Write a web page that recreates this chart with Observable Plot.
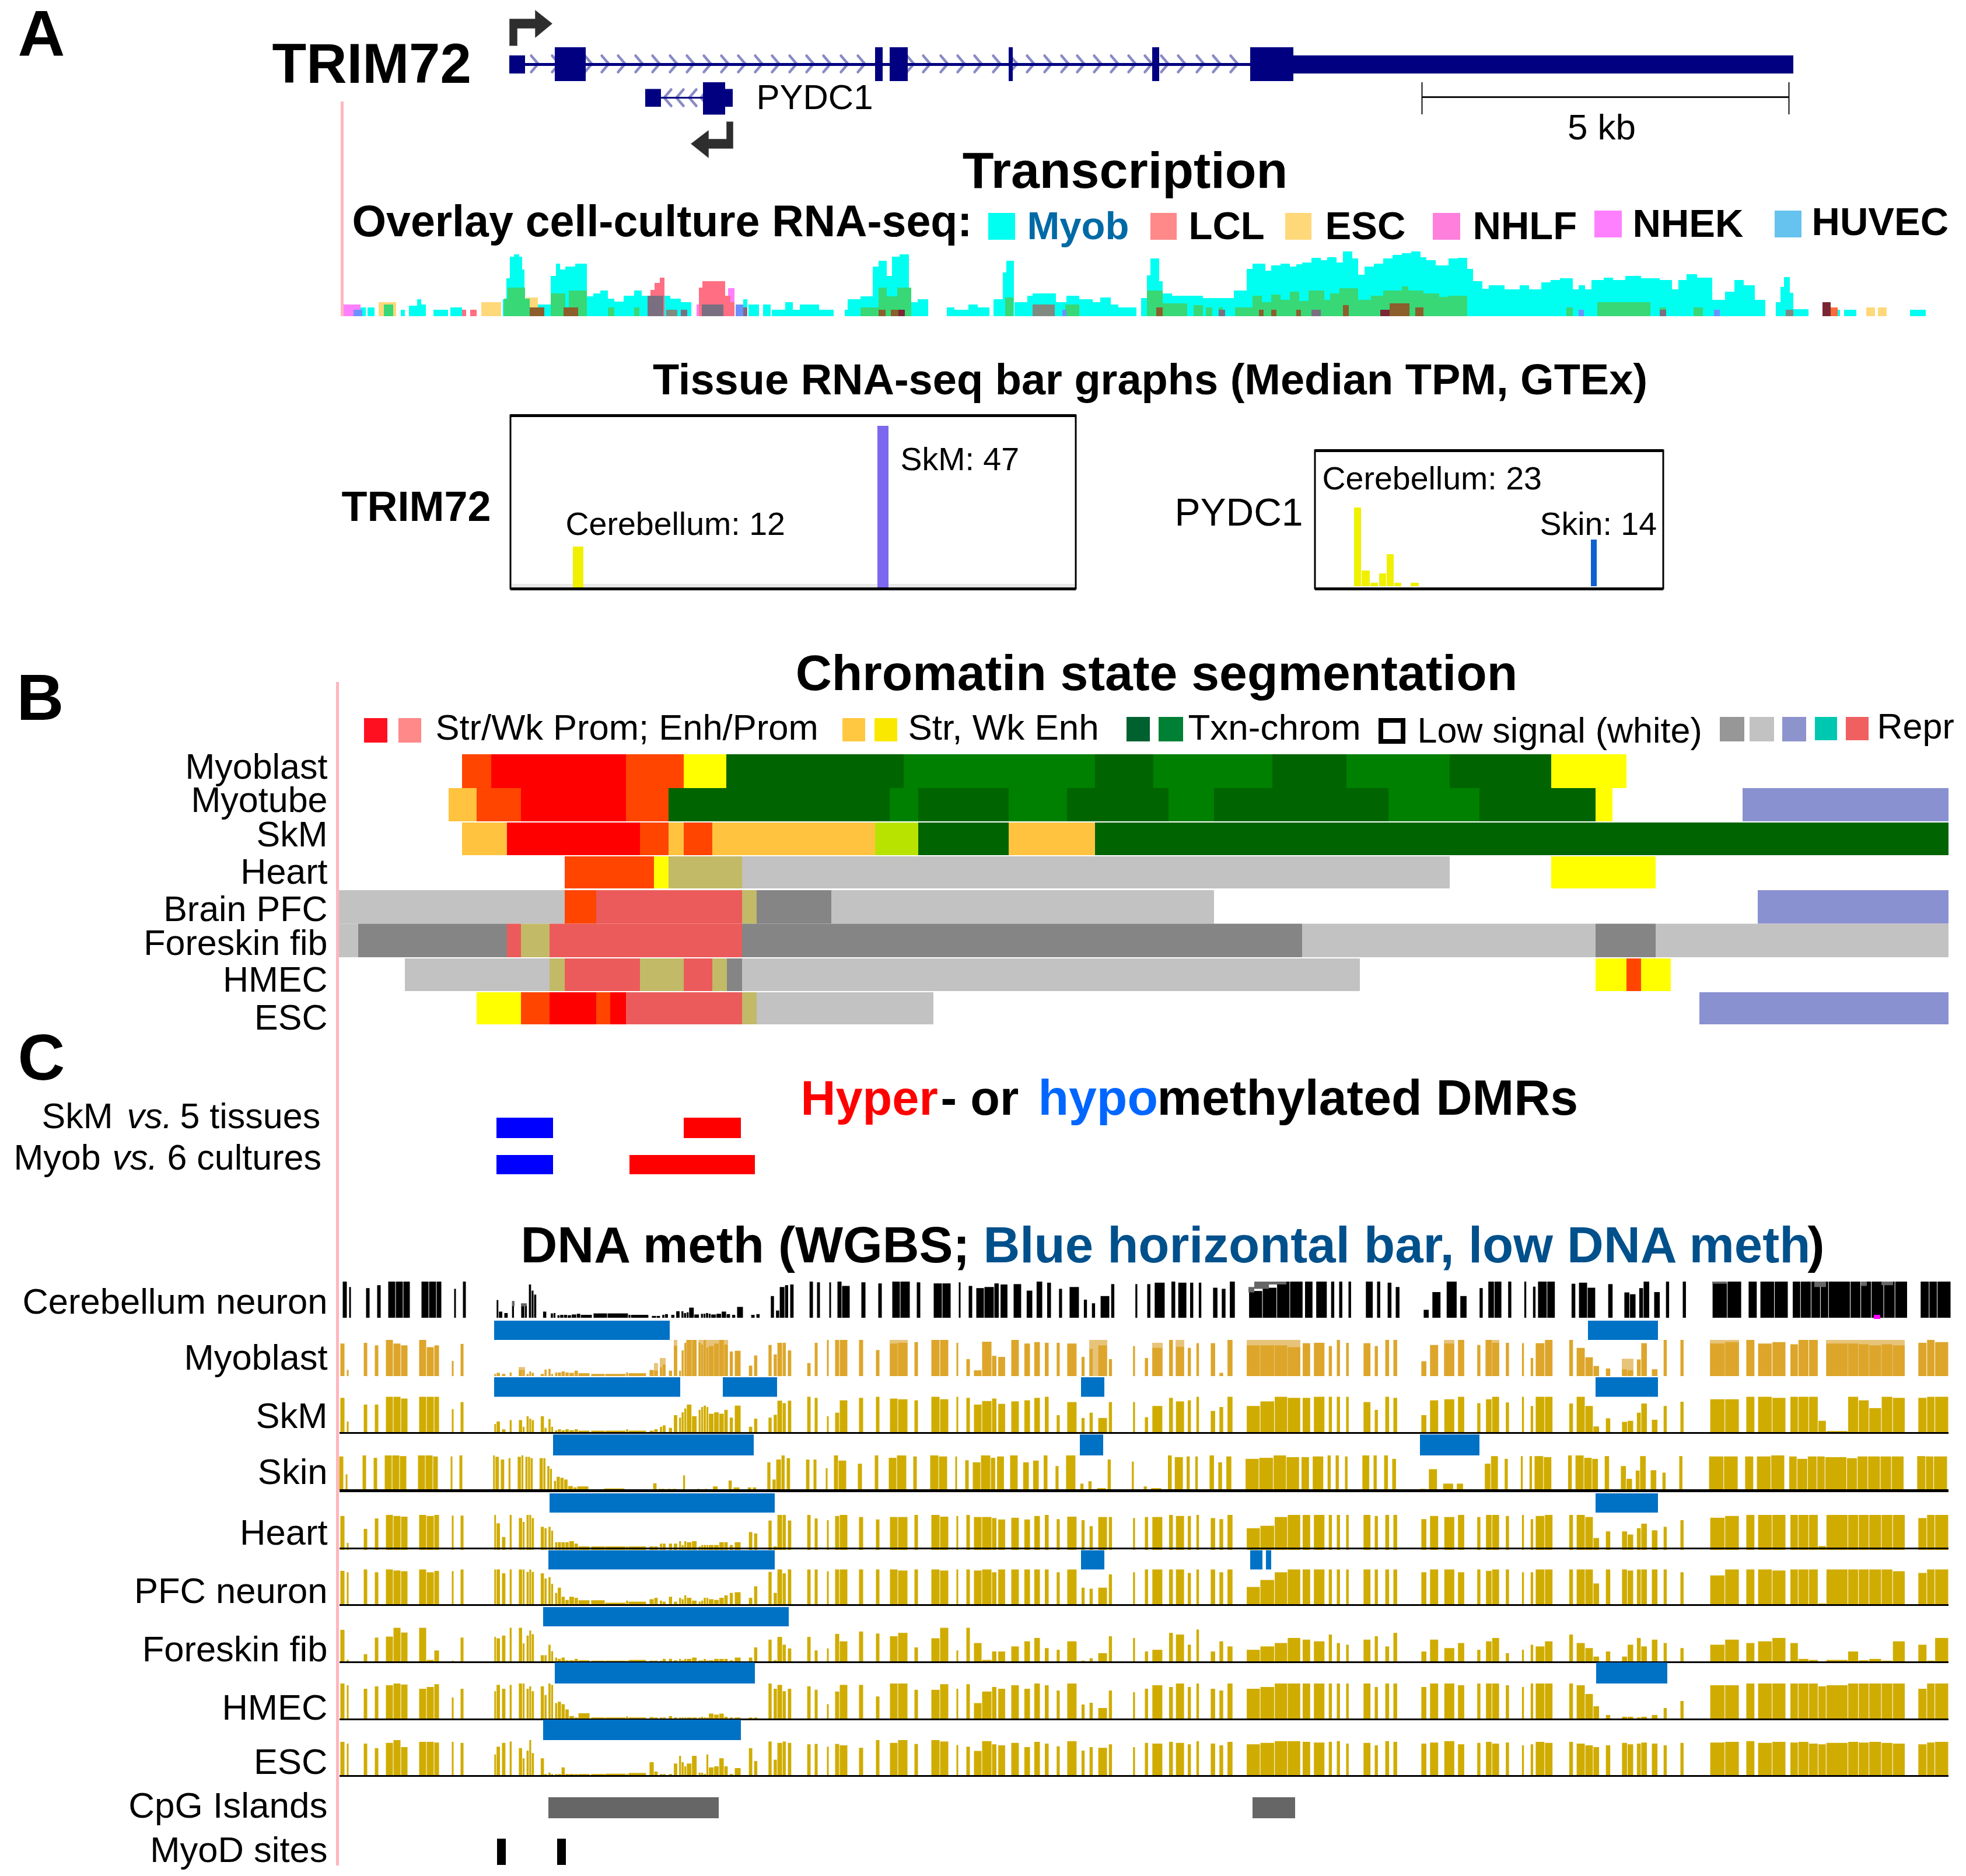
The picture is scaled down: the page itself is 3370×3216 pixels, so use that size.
<!DOCTYPE html>
<html><head><meta charset="utf-8">
<style>html,body{margin:0;padding:0;background:#fff}svg{display:block}</style>
<script src="https://cdn.jsdelivr.net/npm/d3@7"></script>
<script src="https://cdn.jsdelivr.net/npm/@observablehq/plot@0.6"></script>
</head><body><div id="chart"></div>
<script>
// ---------- gene model (x = position along the browser window) ----------
const trimExons = [[873,900,"utr"],[951,1004,"cds"],[1500,1513,"cds"],[1525,1556,"cds"],[1729,1736,"cds"],[1975,1987,"cds"],[2143,2217,"cds"],[2217,3074,"utr"]];
const trimIntron = [900,2143];
const trimChevrons = [916,952,1008,1037,1065,1095,1124,1154,1183,1212,1242,1271,1300,1329,1359,1388,1417,1447,1476,1560,1588,1618,1647,1676,1708,1737,1766,1796,1825,1852,1881,1910,1940,1968,1996,2025,2057,2085,2115];
const pydcExons = [[1106,1133,"utr"],[1205,1243,"cds"],[1243,1256,"utr"]];
const pydcIntron = [1133,1205];
const pydcChevrons = [1144,1165,1187,1207];
const tssArrowTop = [[873,78],[873,32],[917,32],[917,17],[946,40],[917,64],[917,48],[886,48],[886,78]];
const tssArrowBottom = [[1256,208],[1256,254],[1214,254],[1214,270],[1184,246],[1214,223],[1214,238],[1245,238],[1245,208]];
const scaleBar = [2437,3066];

// ---------- overlaid RNA-seq: [start, end, signal] ----------
const rnaMyob = [[618,627,15],[630,642,15],[687,694,11],[701,715,18],[715,722,29],[722,730,20],[743,768,11],[772,792,15],[862,868,29],[868,874,65],[874,881,102],[881,890,106],[890,895,102],[895,899,80],[899,908,15],[908,944,20],[944,953,69],[953,960,90],[960,969,80],[969,986,85],[986,1006,90],[1006,1017,34],[1017,1029,39],[1029,1042,44],[1042,1053,30],[1053,1069,25],[1069,1087,35],[1087,1100,44],[1100,1114,35],[1136,1149,35],[1149,1167,30],[1167,1185,24],[1274,1281,29],[1283,1301,20],[1308,1321,20],[1323,1346,11],[1346,1359,24],[1359,1371,11],[1371,1404,20],[1404,1429,11],[1448,1453,11],[1453,1475,29],[1475,1496,34],[1496,1506,85],[1506,1520,95],[1520,1529,69],[1529,1542,102],[1542,1558,106],[1558,1562,34],[1562,1573,24],[1573,1591,29],[1623,1636,15],[1636,1660,11],[1660,1676,20],[1676,1696,15],[1703,1719,29],[1719,1725,75],[1725,1738,95],[1739,1761,24],[1761,1770,35],[1770,1810,39],[1810,1828,24],[1828,1850,35],[1850,1873,29],[1873,1886,24],[1886,1904,32],[1904,1917,20],[1917,1948,15],[1956,1966,31],[1966,1972,70],[1972,1987,99],[1987,1993,60],[1993,2009,39],[2009,2062,35],[2062,2115,31],[2115,2137,44],
[2137,2147,81],[2147,2169,90],[2169,2179,78],[2179,2195,87],[2195,2211,90],[2211,2222,85],[2222,2232,89],[2232,2248,92],[2248,2264,100],[2264,2275,96],[2275,2291,101],[2291,2302,92],[2302,2318,111],[2318,2328,99],[2328,2339,71],[2339,2355,85],[2355,2371,90],[2371,2387,99],[2387,2403,105],[2403,2419,108],[2419,2435,111],[2435,2445,101],[2445,2461,96],[2461,2483,87],[2483,2499,99],[2499,2515,100],[2515,2525,81],[2525,2541,60],[2541,2552,47],[2552,2579,53],[2579,2605,46],[2605,2621,53],[2621,2642,46],[2642,2658,58],[2658,2674,62],[2674,2696,65],[2696,2706,46],[2706,2717,53],[2717,2728,46],[2728,2749,62],[2749,2765,66],[2765,2786,62],[2786,2813,69],[2813,2845,65],[2845,2866,62],[2866,2877,46],[2877,2891,62],[2891,2909,72],[2909,2935,66],[2935,2957,28],[2957,2973,42],[2973,2989,62],[2989,3008,53],[3008,3026,28],[3044,3052,24],[3052,3058,50],[3058,3068,67],[3068,3074,40],[3074,3100,12],[3132,3154,11],[3161,3182,11],[3274,3301,11]];
const rnaNhek = [[589,618,20],[1194,1203,20],[1248,1259,48]];
const rnaEsc = [[649,679,24],[825,859,24],[901,922,32],[3199,3214,15],[3219,3234,15]];
const rnaLcl = [[792,799,11],[806,817,11],[1115,1122,45],[1122,1131,57],[1131,1139,66],[1198,1204,49],[1204,1243,60],[1243,1252,35],[1252,1259,24]];
const rnaOverlapGreen = [[658,674,20],[864,870,30],[870,900,49],[900,908,30],[944,969,39],[975,1006,44],[1042,1053,15],[1087,1096,15],[1475,1506,15],[1506,1520,49],[1520,1538,34],[1538,1562,49],[1723,1737,32],[1826,1850,20],[1966,1993,44],[1993,2035,22],[2046,2062,19],[2067,2078,15],[2089,2096,15],[2117,2137,15],
[2137,2147,15],[2147,2163,35],[2163,2179,24],[2179,2195,37],[2195,2211,28],[2211,2227,42],[2227,2243,26],[2243,2270,44],[2270,2280,28],[2280,2296,39],[2296,2328,48],[2328,2350,28],[2350,2371,35],[2371,2403,44],[2403,2414,51],[2414,2440,44],[2440,2467,39],[2467,2483,33],[2483,2515,35],[2685,2696,15],[2738,2829,24],[2845,2856,15],[2903,2919,15]];
const rnaOverlapBrown = [[908,933,15],[966,991,15],[1506,1518,11],[1527,1540,11],[1982,1993,15],[2158,2166,11],[2179,2188,11],[2222,2230,11],[2302,2312,19],[2382,2416,22],[2426,2440,15]];
const rnaOverlapMaroon = [[1540,1551,11],[2366,2382,11],[3124,3138,24]];
const rnaOverlapRed = [[3138,3150,15]];
const rnaOverlapGray = [[1142,1161,11],[1770,1808,20],[3061,3074,11]];
const rnaOverlapMauve = [[1110,1137,35],[1167,1178,11],[1203,1240,20],[1270,1281,15],[2089,2100,11],[2248,2264,11],[2845,2856,11]];
const rnaOverlapBlue = [[606,621,11],[1261,1274,20],[1821,1828,11],[2706,2715,11],[2938,2948,11]];

const rnaLegendNames = ["Myob","LCL","ESC","NHLF","NHEK","HUVEC"];
const rnaLegendColors = ["#00FFF0","#FF8888","#FFD87A","#FF80DC","#FF80FF","#66C2EE"];

// ---------- tissue bar graphs: [start, end, TPM-scaled top] ----------
const trimBars = [[982,1000,937,"#F0F000"],[1504,1523,730,"#7B68EE"]];
const pydcBars = [[2321,2333,870,"#F0F000"],[2334,2348,978,"#F0F000"],[2349,2362,999,"#F0F000"],[2364,2376,983,"#F0F000"],[2377,2389,950,"#F0F000"],[2390,2402,999,"#F0F000"],[2418,2432,999,"#F0F000"],[2727,2737,925,"#1060D0"]];

// ---------- chromatin states ----------
const stateColors = {P:"#FF0000",O:"#FF4500",Y:"#FFFF00",D:"#006400",G:"#008000",E:"#FFC340",L:"#B8E300",K:"#C2BA67",S:"#C2C2C2",A:"#858585",R:"#EC5B5B",V:"#8A91D0"};
const chromatinRows = ["Myoblast","Myotube","SkM","Heart","Brain PFC","Foreskin fib","HMEC","ESC"];
const segMyoblast = [[792,842,"O"],[842,1073,"P"],[1073,1172,"O"],[1172,1245,"Y"],[1245,1549,"D"],[1549,1877,"G"],[1877,1977,"D"],[1977,2181,"G"],[2181,2308,"D"],[2308,2485,"G"],[2485,2659,"D"],[2659,2788,"Y"]];
const segMyotube = [[769,817,"E"],[817,893,"O"],[893,1073,"P"],[1073,1146,"O"],[1146,1525,"D"],[1525,1574,"G"],[1574,1729,"D"],[1729,1829,"G"],[1829,2003,"D"],[2003,2081,"G"],[2081,2380,"D"],[2380,2536,"G"],[2536,2735,"D"],[2735,2764,"Y"],[2987,3340,"V"]];
const segSkM = [[792,869,"E"],[869,1097,"P"],[1097,1146,"O"],[1146,1172,"E"],[1172,1221,"O"],[1221,1500,"E"],[1500,1574,"L"],[1574,1729,"D"],[1729,1877,"E"],[1877,3340,"D"]];
const segHeart = [[968,1121,"O"],[1121,1146,"Y"],[1146,1272,"K"],[1272,2485,"S"],[2659,2838,"Y"]];
const segBrain = [[581,968,"S"],[968,1022,"O"],[1022,1272,"R"],[1272,1297,"K"],[1297,1425,"A"],[1425,2081,"S"],[3013,3340,"V"]];
const segForeskin = [[581,614,"S"],[614,869,"A"],[869,893,"R"],[893,942,"K"],[942,1272,"R"],[1272,2232,"A"],[2232,2735,"S"],[2735,2838,"A"],[2838,3340,"S"]];
const segHmec = [[694,942,"S"],[942,968,"K"],[968,1097,"R"],[1097,1172,"K"],[1172,1221,"R"],[1221,1246,"K"],[1246,1272,"A"],[1272,2331,"S"],[2735,2788,"Y"],[2788,2813,"O"],[2813,2864,"Y"]];
const segEsc = [[817,893,"Y"],[893,942,"O"],[942,1022,"P"],[1022,1046,"O"],[1046,1073,"P"],[1073,1272,"R"],[1272,1297,"K"],[1297,1600,"S"],[2913,3340,"V"]];

// ---------- DMRs ----------
const dmrSkm = [[851,948,"hypo"],[1172,1270,"hyper"]];
const dmrMyob = [[851,948,"hypo"],[1079,1294,"hyper"]];

// ---------- CpG sites shared by all methylation tracks ----------
const sitesLeft = [[583,591],[594,598],[623,630],[642,649],[661,674],[674,687],[687,699],[718,731],[731,744],[744,753],[774,778],[789,795]];
const sitesDip = [[846.8,850.7],[850.7,857.5],[860,866.8],[873.2,877.5],[888.9,895.4],[895.4,899.6],[902.1,906.8],[906.8,911],[911,915.7],[926.4,932.9],[932.9,937.5],[939.6,944.3],[944.3,948.6],[951,955.7],[955.7,962.1],[962.1,968.6],[968.6,975.4],[975.4,984.3],[984.3,991.1],[991.1,1011],[1012.9,1037.1],[1037.1,1072.9],[1072.9,1077.1],[1077.1,1107.9],[1112.9,1121.1],[1121.1,1127.9],[1130.7,1135.4],[1135.4,1141.4],[1146.1,1152.5],[1154.6,1161.4],[1163.6,1167.9],[1167.9,1172.5],[1172.5,1176.8],[1176.8,1185.7],[1185.7,1194.6],[1197.1,1201.4],[1201.4,1205.7],[1205.7,1210.4],[1210.4,1214.6],[1214.6,1223.6],[1223.6,1232.5],[1232.5,1241.1],[1241.1,1247.9],[1250.4,1256.8],[1259,1270],[1283.2,1290],[1292.1,1298.6],[1316.8,1323.2],[1325.7,1332.1],[1332.1,1341.1],[1341.1,1347.5],[1350,1356.8],[1383.2,1390]];
const sitesRight = [[1396,1402],[1417,1421],[1431,1439],[1439,1453],[1472,1480],[1501,1508],[1525,1539],[1539,1556],[1567,1574],[1596,1611],[1611,1626],[1639,1643],[1656,1663],[1669,1683],[1683,1700],
[1700,1708.5],[1710.6,1723.4],[1733,1746.9],[1755.4,1766],[1772.4,1783],[1790.5,1798],[1810.8,1817],[1828.9,1845.9],[1853.4,1859.7],[1867.2,1873.6],[1882.1,1898],[1900.2,1906.6],
[1941.7,1946],[1962,1968.4],[1974.8,1992.9],[2003.5,2011],[2015.2,2030.1],[2035.5,2041.9],[2050.4,2055.7],[2074.9,2083.4],[2089.8,2097.2],[2103.6,2113.2],
[2136.6,2160],[2160,2184.6],[2184.6,2206.9],[2206.9,2229.3],[2232.5,2246.3],[2251.7,2270.8],[2277.2,2283.6],[2291,2297.4],[2307,2312.4],
[2336.8,2349.6],[2356,2362.4],[2374.1,2381.6],[2388,2395.4],
[2435.9,2445.5],[2450.8,2465.7],[2475.3,2493.4],[2498.7,2510.4],[2531.7,2538.1],[2546.7,2557.3],[2557.3,2570.1],[2580.7,2587.1],[2608.4,2612.7],[2623.3,2628.6],[2631.9,2647.8],[2647.8,2661.7],
[2689.4,2696.8],[2702.1,2717],[2717,2730.9],[2730.9,2741.5],[2752.2,2760.7],[2779.9,2789.5],[2789.5,2800],[2805.4,2812.9],[2812.9,2823.5],[2831,2841.6],[2851.2,2857.6],[2880,2886.4],
[2931.1,2956.7],[2956.7,2981.1],[2992.9,3007.8],[3013.1,3037.6],[3037.6,3061],[3068.5,3082.3],[3082.3,3100.4],[3100.4,3116.4],[3116.4,3130.3],[3130.3,3167.5],[3167.5,3185.6],[3185.6,3203.7],[3203.7,3225],[3225,3244.2],[3244.2,3265.5],
[3287.8,3302.8],[3302.8,3316.6],[3316.6,3340]];

// ---------- methylation level at each site (percent of track height) ----------
const methCerebellum = [100,85,82,90,100,100,100,100,100,100,80,100,
49,17,13,46,32,36,92,75,64,17,0,12,13,7,8,8,7,9,11,8,12,12,8,8,5,5,8,10,8,18,18,13,15,28,9,11,11,13,11,9,11,17,10,8,30,8,10,60,20,85,90,92,100,
98,98,100,88,98,95,100,100,98,95,95,98,88,82,85,
95,92,93,75,100,97,80,85,50,40,60,93,
93,93,97,100,97,97,97,83,80,100,
74,83,100,100,100,100,100,100,100,
100,100,97,85,
22,71,100,60,82,100,100,100,100,86,100,100,
94,97,83,0,93,70,65,82,100,71,100,100,
97,100,100,100,100,100,100,100,100,100,100,100,100,100,100,
100,100,100];
const methMyoblast = [90,17,92,85,100,90,85,100,80,85,42,89,
6,9,6,10,17,17,6,13,9,6,18,20,6,10,10,13,10,9,15,8,6,6,10,8,17,15,24,32,15,84,15,71,92,100,100,92,87,100,79,83,90,100,87,68,70,29,57,86,60,92,92,71,36,
92,100,100,100,100,72,90,92,94,100,100,92,47,16,95,
56,53,100,90,94,92,92,90,53,75,85,47,
83,50,78,100,81,78,91,91,9,100,
85,85,85,80,91,92,83,100,92,
91,83,100,100,
41,86,90,100,86,100,92,92,91,50,91,100,
100,78,52,28,21,19,16,46,91,19,100,100,
90,94,100,90,94,88,100,100,0,90,90,88,85,88,85,
92,100,94];
const methSkM = [97,30,78,78,100,100,95,100,100,100,65,85,
23,30,8,34,34,15,45,38,34,45,12,37,15,5,8,5,8,5,8,4,4,4,8,4,4,8,15,19,12,48,41,56,67,78,45,63,71,75,71,52,56,52,63,41,75,15,38,41,49,89,82,89,100,
97,45,55,90,97,100,95,93,90,100,93,100,97,78,88,
95,80,87,90,97,100,48,85,40,55,40,85,
85,42,74,97,87,90,100,60,71,100,
74,87,100,97,97,100,100,100,100,
85,63,100,97,
48,90,93,100,82,93,100,84,100,74,100,100,
81,100,74,16,39,29,32,55,81,35,74,86,
93,93,100,100,97,100,100,100,32,3,100,90,68,100,97,
97,100,100];
const methSkin = [97,45,100,93,100,100,98,100,100,97,97,100,
100,96,88,92,96,100,96,96,92,92,92,69,61,26,38,35,30,11,7,10,0,4,0,0,0,19,3,3,3,3,0,0,42,0,0,3,0,0,3,0,10,0,0,27,7,7,7,80,30,88,100,92,88,
88,63,100,85,76,100,93,100,97,100,97,97,86,80,100,
93,97,100,80,85,100,69,100,18,25,5,88,
82,10,5,100,95,97,97,100,80,97,
90,93,100,95,95,97,100,100,97,
100,100,100,90,
3,60,18,18,0,76,98,90,98,98,98,95,
100,100,93,90,98,69,32,56,98,57,50,98,
97,97,97,97,100,97,90,97,97,95,92,97,97,97,97,
98,97,97];
const methHeart = [97,20,60,90,100,97,95,100,97,100,98,98,
100,76,37,100,91,80,100,100,91,66,62,66,55,22,22,22,22,25,18,10,10,10,10,10,10,10,18,18,18,18,25,14,25,22,25,10,14,14,14,14,14,22,22,14,22,51,47,84,10,100,100,84,100,
90,85,97,100,94,87,94,94,100,100,95,97,100,94,94,
91,87,92,87,97,100,88,95,85,68,94,94,
91,94,94,100,97,97,100,91,88,100,
62,69,94,100,100,100,100,100,100,
100,97,100,100,
88,97,94,100,94,100,100,97,100,88,97,100,
100,100,94,34,53,53,44,62,75,56,66,85,
92,97,100,100,100,100,100,100,11,100,100,100,100,100,100,
91,100,100];
const methPFC = [96,92,100,92,100,97,95,100,92,96,95,100,
100,100,89,100,100,100,93,100,93,89,74,78,59,33,48,22,13,22,19,12,12,5,11,8,15,19,11,8,22,8,19,15,26,19,11,8,11,19,19,15,13,19,26,33,35,19,52,93,33,100,89,100,100,
100,95,100,100,100,100,100,97,100,100,97,100,100,97,100,
92,100,100,100,100,100,92,100,48,45,48,86,
92,100,100,100,100,90,100,100,92,100,
50,70,92,100,100,100,100,100,100,
100,100,100,100,
92,100,100,92,100,96,100,100,92,92,100,100,
100,100,100,60,100,100,97,100,100,100,100,92,
83,100,100,100,97,100,100,100,3,100,100,100,100,100,95,
90,100,100];
const methForeskin = [94,6,22,71,74,100,86,100,5,33,3,71,
73,69,77,100,100,54,77,92,81,19,19,50,31,12,8,12,4,4,8,4,3,3,3,5,3,3,3,8,8,4,8,4,8,8,12,4,4,8,4,4,8,8,8,4,12,12,42,65,4,73,50,39,73,
33,39,82,60,89,83,75,85,42,69,100,33,100,55,5,
30,30,45,60,70,40,35,60,3,10,25,75,
70,30,35,85,80,50,95,30,60,45,
35,45,55,70,65,60,80,55,50,
65,75,45,85,
30,65,40,55,35,60,70,25,35,50,45,60,
80,55,40,15,30,15,50,70,45,65,55,40,
50,65,55,60,70,55,8,5,0,5,30,4,8,3,60,
50,3,70];
const methHMEC = [100,95,85,92,95,100,97,85,90,98,60,85,
78,96,85,96,100,100,85,92,78,92,67,100,96,44,48,41,26,7,3,15,3,3,6,3,4,3,3,3,7,3,3,3,3,3,3,3,5,3,3,14,11,14,5,3,3,3,3,100,85,96,78,85,92,
82,41,77,96,96,63,100,100,82,82,98,85,98,44,77,
90,85,95,85,100,95,80,100,40,45,30,80,
75,85,95,90,100,90,100,85,80,100,
85,90,100,100,100,100,100,100,100,
100,90,100,100,
90,100,100,95,100,100,100,95,90,100,100,100,
100,95,70,35,10,5,5,3,5,10,30,50,
95,95,100,100,100,100,100,100,92,95,100,100,100,100,100,
85,100,100];
const methESC = [95,90,90,77,92,100,80,95,95,93,95,92,
59,81,92,96,77,48,70,100,63,48,3,7,3,3,3,22,3,3,3,3,3,4,3,6,37,10,3,3,3,33,55,37,25,33,55,7,7,3,59,22,25,48,25,3,20,77,40,96,44,92,96,92,88,
89,81,89,85,78,100,92,100,89,100,96,86,81,69,97,
88,85,92,80,95,90,82,97,70,80,78,88,
80,92,90,95,92,88,97,90,85,95,
88,92,97,97,95,93,95,97,90,
92,85,97,95,
90,93,97,88,92,95,90,93,85,88,95,92,
95,90,85,80,85,92,88,90,93,90,85,92,
93,95,97,92,95,93,95,90,88,92,95,93,95,92,90,
88,93,95];
// pale upper layer on the Myoblast track and grey upper layer on the Cerebellum track
const myoblastPale = [[889,900,25],[1121,1128,36],[1131,1141,50],[1155,1161,100],[1176,1186,100],[1197,1248,100],[1525,1556,100],[1867,1898,100],[1975,1993,92],[2015,2030,100],[2137,2229,100],[2475,2493,100],[2546,2570,100],[2780,2800,48],[2931,2981,100],[3130,3265,100]];
const cerebellumGrey = [[893,903,32,40],[878,882,32,46],[2140,2150,70,85],[2150,2175,80,100],[2175,2205,92,100],[2935,2960,94,100],[3110,3130,85,100],[3190,3200,88,100],[3225,3245,90,100]];
// low-methylation regions above each track
const lmrMyoblast = [[847,1148],[2722,2842]];
const lmrSkM = [[847,1166],[1239,1332],[1853,1893],[2735,2842]];
const lmrSkin = [[948,1292],[1851,1891],[2434,2536]];
const lmrHeart = [[942,1328],[2735,2842]];
const lmrPFC = [[940,1328],[1853,1893],[2143,2164],[2170,2179]];
const lmrForeskin = [[931,1352]];
const lmrHMEC = [[951,1294],[2736,2858]];
const lmrESC = [[931,1270]];
const cpgIslands = [[940,1232],[2147,2220]];
const myodSites = [[852,867],[955,970]];
const methLabels = ["Cerebellum neuron","Myoblast","SkM","Skin","Heart","PFC neuron","Foreskin fib","HMEC","ESC"];
const methSeries = [methCerebellum,methMyoblast,methSkM,methSkin,methHeart,methPFC,methForeskin,methHMEC,methESC];
const lmrSeries = [null,lmrMyoblast,lmrSkM,lmrSkin,lmrHeart,lmrPFC,lmrForeskin,lmrHMEC,lmrESC];

// ---------- layout (not data) ----------
const W = 3370, H = 3216;
const chromY = [[1293,1351],[1351,1408],[1410,1466],[1468,1523],[1526,1583.5],[1583.5,1641],[1643,1699],[1701,1756]];
const trackY = [[2197,2259],[2297,2359],[2394.5,2455],[2495,2554],[2597,2657],[2690.5,2750.5],[2790.5,2848.5],[2886,2946],[2983,3043]];
const lmrY = [null,[2264,2297],[2361,2394.5],[2459,2495],[2560,2593],[2657.5,2690.5],[2755,2788],[2850,2886],[2948,2983]];
const trackColor = ["#000000","#DDA62B","#D0AC00","#D0AC00","#D0AC00","#D0AC00","#D0AC00","#D0AC00","#D0AC00"];
const trackShift = [4,0,0,-2,0,0,0,0,0];
const ruleRows = [[2456,3],[2555,5],[2654,3],[2751,3],[2849,3],[2947,3],[3044,3]];
const rnaBase = 542;

const allSites = [...sitesLeft,...sitesDip,...sitesRight];
methSeries.forEach((s,i)=>{ if(s.length!==allSites.length) throw new Error("length "+methLabels[i]+" "+s.length+" vs "+allSites.length); });

const methBars = methSeries.flatMap((vals,i)=>vals.map((v,k)=>({x1:allSites[k][0]+trackShift[i]+0.5,x2:allSites[k][1]+trackShift[i]-0.5,y2:trackY[i][1],y1:trackY[i][1]-(trackY[i][1]-trackY[i][0])*v/100,fill:trackColor[i]})).filter(d=>d.y1<d.y2));
const paleBars = myoblastPale.map(([a,b,v])=>({x1:a,x2:b,y1:trackY[1][1]-(trackY[1][1]-trackY[1][0])*v/100,y2:trackY[1][1]}));
const greyBars = cerebellumGrey.map(([a,b,lo,hi])=>({x1:a,x2:b,y1:trackY[0][1]-62*hi/100,y2:trackY[0][1]-62*lo/100}));
const lmrBars = lmrSeries.flatMap((s,i)=>s?s.map(([a,b])=>({x1:a,x2:b,y1:lmrY[i][0],y2:lmrY[i][1]})):[]);
const chromSegs = [segMyoblast,segMyotube,segSkM,segHeart,segBrain,segForeskin,segHmec,segEsc].flatMap((r,i)=>r.map(([a,b,s])=>({x1:a,x2:b,y1:chromY[i][0],y2:chromY[i][1],fill:stateColors[s]})));

const rnaRect = (arr,fill,opts={})=>Plot.rect(arr,{x1:d=>d[0],x2:d=>d[1],y1:d=>rnaBase-d[2],y2:rnaBase,fill,...opts});
const spanRect = (arr,y1,y2,fill)=>Plot.rect(arr,{x1:d=>d[0],x2:d=>d[1],y1,y2,fill});
const chevrons = (xs,y,h,dir)=>xs.flatMap((x,i)=>[{x:x-6*dir,y:y-h,z:i},{x:x+6*dir,y,z:i},{x:x-6*dir,y:y+h,z:i}]);
const poly = (pts,fill)=>Plot.line(pts,{x:d=>d[0],y:d=>d[1],fill,stroke:fill,strokeWidth:0.5});

const FONT = "Liberation Sans, Arial, sans-serif";
const txt = (items,{weight="normal",anchor="start",style="normal"}={})=>Plot.text(items,{
  x:d=>d[1],y:d=>d[2],text:d=>d[0],fontSize:d=>d[3],fill:d=>d[4]||"#000",
  textAnchor:anchor,lineAnchor:"bottom",fontWeight:weight,fontStyle:style,fontFamily:FONT});

const boldStart = [
 ["A",30,95,112],["B",28,1233,112],["C",30,1850,112],["TRIM72",466,141,96],
 ["Overlay cell-culture RNA-seq:",603,404,75.3],
 ["Myob",1760,409,67,"#006AA6"],["LCL",2037,409,67],["ESC",2271,409,67],["NHLF",2524,409,67],["NHEK",2798,405,67],["HUVEC",3105,402,67],
 ["TRIM72",585,892,72],
 ["Hyper",1372,1910,83,"#FF0000"],["- or",1612,1910,83],["hypo",1779,1910,86,"#0066FF"],["methylated DMRs",1983,1910,86],
 ["DNA meth (WGBS;",892,2163,87],["Blue horizontal bar, low DNA meth",1685,2163,87,"#00508C"],[")",3098,2163,87]
];
const boldMiddle = [["Transcription",1928,321,88],["Tissue RNA-seq bar graphs (Median TPM, GTEx)",1971,675,74],["Chromatin state segmentation",1982,1182,86]];
const plainStart = [
 ["PYDC1",1296,186,60],["Cerebellum: 12",969,916,55.5],["SkM: 47",1543,805,55.5],["Cerebellum: 23",2266,838,55.5],["Skin: 14",2639,916,55.5],["PYDC1",2013,900,66],
 ["Str/Wk Prom; Enh/Prom",746,1267,61.5],["Str, Wk Enh",1556,1267,62],["Txn-chrom",2036,1267,62],["Low signal (white)",2429,1272,61],["Repr",3217,1265,61],
 ["SkM",71,1933,61],["5 tissues",308,1933,61],["Myob",23,2004,61],["6 cultures",286,2004,61]
];
const italicStart = [["vs.",217,1933,61],["vs.",192,2004,61]];
const plainMiddle = [["5 kb",2745,238,62]];
const chromLabelBase = [1334,1391,1450,1514,1578,1636,1699,1764];
const methLabelBase = [2251,2347,2447,2543,2647,2747,2847,2947,3040];
const plainEnd = [
 ...chromatinRows.map((t,i)=>[t,561,chromLabelBase[i],61]),
 ...methLabels.map((t,i)=>[t,561,methLabelBase[i],61.5]),
 ["CpG Islands",561,3115,62],["MyoD sites",561,3191,61.5]
];

// legend swatches
const rnaSwatchX = [[1694,1740],[1972,2017],[2203,2248],[2456,2503],[2733,2780],[3042,3088]];
const rnaSwatchY = [[365,411],[365,411],[365,411],[365,411],[361,407],[361,407]];
const chromSwatch = [[624,664,"#FF1020",1231,1273],[683,722,"#FF8888",1231,1273],[1444,1483,"#FFC840",1231,1271],[1499,1538,"#FAE800",1231,1271],[1931,1971,"#006130",1229,1271],[1986,2028,"#008035",1229,1271],[2948,2990,"#979797",1229,1271],[2999,3041,"#C2C2C2",1229,1271],[3055,3096,"#8D93CC",1229,1271],[3111,3149,"#00C8B0",1229,1269],[3164,3203,"#F06060",1229,1269]];

const chart = Plot.plot({
  width:W,height:H,margin:0,
  x:{domain:[0,W],range:[0,W],axis:null},
  y:{domain:[0,H],range:[0,H],axis:null},
  color:{type:"identity"},
  style:{background:"#fff",fontFamily:FONT},
  marks:[
    // pink guides
    Plot.ruleX([586],{y1:174,y2:542,stroke:"#FFB6BE",strokeWidth:5}),
    Plot.ruleX([578],{y1:1169,y2:3198,stroke:"#FFB6BE",strokeWidth:5}),
    // genes
    Plot.line(chevrons(trimChevrons,109,14,1),{x:"x",y:"y",z:"z",stroke:"#8A8AC8",strokeWidth:4.5}),
    Plot.line(chevrons(pydcChevrons,167,14,-1),{x:"x",y:"y",z:"z",stroke:"#8A8AC8",strokeWidth:4.5}),
    Plot.ruleY([110],{x1:trimIntron[0],x2:trimIntron[1],stroke:"#000080",strokeWidth:5}),
    Plot.ruleY([167],{x1:pydcIntron[0],x2:pydcIntron[1],stroke:"#000080",strokeWidth:3}),
    Plot.rect(trimExons,{x1:d=>d[0],x2:d=>d[1],y1:d=>d[2]==="cds"?81:95,y2:d=>d[2]==="cds"?139:126,fill:"#000080"}),
    Plot.rect(pydcExons,{x1:d=>d[0],x2:d=>d[1],y1:d=>d[2]==="cds"?141:152.5,y2:d=>d[2]==="cds"?196.5:183,fill:"#000080"}),
    poly(tssArrowTop,"#2E2E2E"),poly(tssArrowBottom,"#2E2E2E"),
    Plot.ruleY([166],{x1:scaleBar[0],x2:scaleBar[1],stroke:"#111",strokeWidth:3}),
    Plot.ruleX(scaleBar,{y1:141,y2:196,stroke:"#111",strokeWidth:2}),
    // RNA-seq overlay
    rnaRect(rnaMyob,"#00FFF0"),
    rnaRect(rnaNhek,"#FF80FF"),
    rnaRect(rnaEsc,"#FFD87A"),
    rnaRect(rnaLcl,"#FF6E82"),
    rnaRect(rnaOverlapGreen,"#38D876"),
    rnaRect(rnaOverlapBrown,"#8B5E2B"),
    rnaRect(rnaOverlapMaroon,"#7A2634"),
    rnaRect(rnaOverlapRed,"#FF6A3C"),
    rnaRect(rnaOverlapGray,"#7F8A80"),
    rnaRect(rnaOverlapMauve,"#7A6F80"),
    rnaRect(rnaOverlapBlue,"#6E90FF"),
    Plot.rect(rnaLegendNames,{x1:(d,i)=>rnaSwatchX[i][0],x2:(d,i)=>rnaSwatchX[i][1],y1:(d,i)=>rnaSwatchY[i][0],y2:(d,i)=>rnaSwatchY[i][1],fill:(d,i)=>rnaLegendColors[i]}),
    // tissue bar graphs
    Plot.rect([[877,1842]],{x1:d=>d[0],x2:d=>d[1],y1:1001,y2:1007,fill:"#E8E8E8"}),
    Plot.rect(trimBars,{x1:d=>d[0],x2:d=>d[1],y1:d=>d[2],y2:1007,fill:d=>d[3]}),
    Plot.rect(pydcBars,{x1:d=>d[0],x2:d=>d[1],y1:d=>d[2],y2:1005,fill:d=>d[3]}),
    Plot.rect([[875,1844,712],[2254,2851,772]],{x1:d=>d[0],x2:d=>d[1],y1:d=>d[2],y2:1009,fill:"none",stroke:"#000",strokeWidth:3}),
    Plot.ruleY([[875,1844,712],[875,1844,1009],[2254,2851,772],[2254,2851,1009]],{y:d=>d[2],x1:d=>d[0],x2:d=>d[1],stroke:"#000",strokeWidth:5}),
    // chromatin
    Plot.rect(chromSegs,{x1:"x1",x2:"x2",y1:"y1",y2:"y2",fill:"fill"}),
    Plot.rect(chromSwatch,{x1:d=>d[0],x2:d=>d[1],y1:d=>d[3],y2:d=>d[4],fill:d=>d[2]}),
    Plot.rect([[2367,2405]],{x1:d=>d[0],x2:d=>d[1],y1:1235,y2:1271,fill:"#fff",stroke:"#000",strokeWidth:8}),
    // DMRs
    Plot.rect(dmrSkm,{x1:d=>d[0],x2:d=>d[1],y1:1916,y2:1951,fill:d=>d[2]==="hypo"?"#0000FF":"#FF0000"}),
    Plot.rect(dmrMyob,{x1:d=>d[0],x2:d=>d[1],y1:1980,y2:2013,fill:d=>d[2]==="hypo"?"#0000FF":"#FF0000"}),
    // methylation
    Plot.rect(paleBars,{x1:"x1",x2:"x2",y1:"y1",y2:"y2",fill:"#E8C47A"}),
    Plot.rect(methBars,{x1:"x1",x2:"x2",y1:"y1",y2:"y2",fill:"fill"}),
    Plot.rect(greyBars,{x1:"x1",x2:"x2",y1:"y1",y2:"y2",fill:"#666"}),
    Plot.rect([[3212,3223]],{x1:d=>d[0],x2:d=>d[1],y1:2254,y2:2261,fill:"#FF00FF"}),
    Plot.ruleY(ruleRows,{y:d=>d[0],x1:582,x2:3340,stroke:"#000",strokeWidth:d=>d[1]}),
    Plot.rect(lmrBars,{x1:"x1",x2:"x2",y1:"y1",y2:"y2",fill:"#0072C6"}),
    spanRect(cpgIslands,3081,3117,"#666666"),
    spanRect(myodSites,3152,3197,"#000"),
    // text
    txt(boldStart,{weight:"bold"}),
    txt(boldMiddle,{weight:"bold",anchor:"middle"}),
    txt(plainStart),
    txt(italicStart,{style:"italic"}),
    txt(plainMiddle,{anchor:"middle"}),
    txt(plainEnd,{anchor:"end"})
  ]
});
document.getElementById("chart").appendChild(chart);
</script></body></html>
